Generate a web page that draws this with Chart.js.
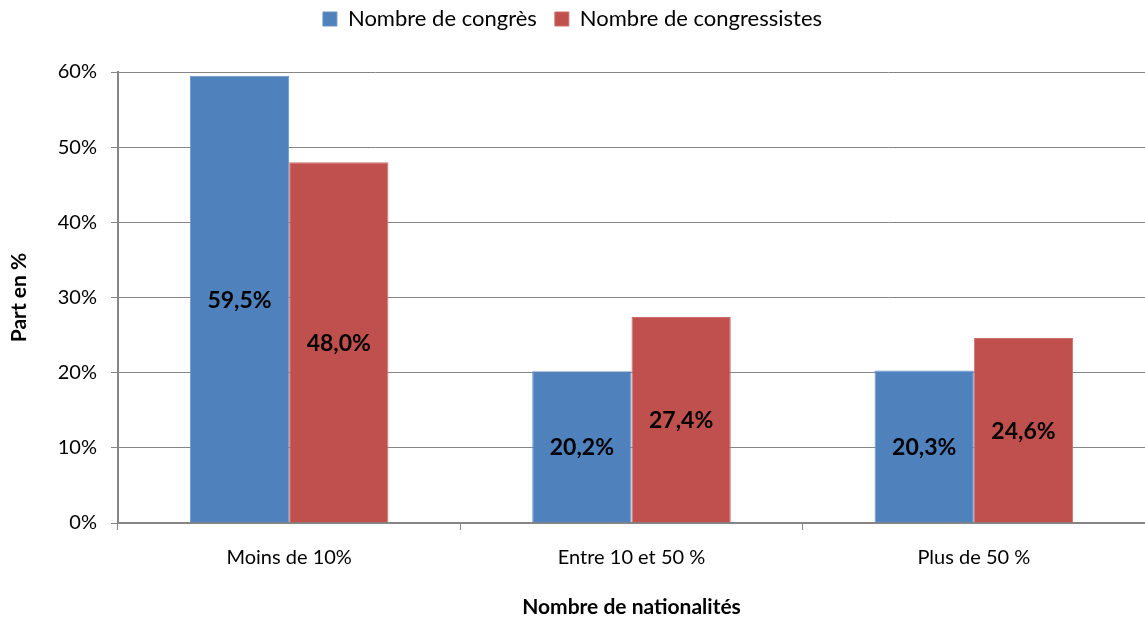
<!DOCTYPE html>
<html>
<head>
<meta charset="utf-8">
<script src="https://cdn.jsdelivr.net/npm/chart.js@4.4.0/dist/chart.umd.min.js"></script>
<style>
html,body{margin:0;padding:0;background:#fff;}
#wrap{width:1145px;height:623px;position:relative;}
</style>
</head>
<body>
<div id="wrap"><canvas id="c" width="1145" height="623"></canvas></div>
<script>
const categories = ["Moins de 10%", "Entre 10 et 50 %", "Plus de 50 %"];
const seriesNames = ["Nombre de congrès", "Nombre de congressistes"];
const congres = [59.5, 20.2, 20.3];
const congressistes = [48.0, 27.4, 24.6];
const yTitle = "Part en %";
const xTitle = "Nombre de nationalités";

const FONT = "Lato, 'Open Sans', sans-serif";
const TOP_PAD = -10;
const PLOT_TOP = 72;

const labelPlugin = {
  id: 'barLabels',
  afterDatasetsDraw(chart) {
    const ctx = chart.ctx;
    ctx.save();
    ctx.font = "bold 23px " + FONT;
    ctx.fillStyle = "#000";
    ctx.textAlign = "center";
    ctx.textBaseline = "middle";
    chart.data.datasets.forEach((ds, i) => {
      const meta = chart.getDatasetMeta(i);
      meta.data.forEach((bar, j) => {
        const v = ds.data[j];
        const txt = v.toFixed(1).replace('.', ',') + '%';
        ctx.fillText(txt, bar.x, (bar.y + bar.base) / 2 + 1);
      });
    });
    ctx.restore();
  }
};

const legendHeightPlugin = {
  id: 'legendHeight',
  beforeInit(chart) {
    const lg = chart.legend;
    if (!lg) return;
    const origFit = lg.fit;
    lg.fit = function () {
      origFit.call(this);
      this.height = PLOT_TOP - TOP_PAD;
    };
  }
};

new Chart(document.getElementById('c'), {
  type: 'bar',
  data: {
    labels: categories,
    datasets: [
      { label: seriesNames[0], data: congres, backgroundColor: '#4F81BD', borderColor: '#6b95c9', borderWidth: 1 },
      { label: seriesNames[1], data: congressistes, backgroundColor: '#C0504D', borderColor: '#cc6e6b', borderWidth: 1 }
    ]
  },
  options: {
    responsive: false,
    animation: false,
    devicePixelRatio: 1,
    layout: { padding: { top: TOP_PAD, right: 0, left: 0, bottom: 0 } },
    datasets: { bar: { categoryPercentage: 0.58, barPercentage: 1.0 } },
    plugins: {
      legend: {
        position: 'top',
        labels: {
          font: { family: FONT, size: 22 },
          color: '#000',
          boxWidth: 14,
          boxHeight: 14,
          padding: 18
        }
      },
      tooltip: { enabled: false }
    },
    scales: {
      x: {
        grid: { display: true, drawOnChartArea: false, offset: true, color: '#868686', tickLength: 7, lineWidth: 1 },
        border: { color: '#868686', width: 2 },
        ticks: { font: { family: FONT, size: 20 }, color: '#000', padding: 16 },
        title: { display: true, text: xTitle, font: { family: FONT, size: 21, weight: 'bold' }, color: '#000', padding: { top: 0, bottom: 3 } },
        afterFit(scale) { scale.height = 100; }
      },
      y: {
        min: 0, max: 60,
        ticks: { stepSize: 10, callback: v => v + '%', font: { family: FONT, size: 20 }, color: '#000', padding: 14 },
        grid: { color: '#868686', tickLength: 7, lineWidth: 1 },
        border: { color: '#868686', width: 2 },
        title: { display: true, text: yTitle, font: { family: FONT, size: 21, weight: 'bold' }, color: '#000', padding: { top: 7, bottom: 0 } },
        afterFit(scale) { scale.width = 118; }
      }
    }
  },
  plugins: [labelPlugin, legendHeightPlugin]
});
</script>
</body>
</html>
